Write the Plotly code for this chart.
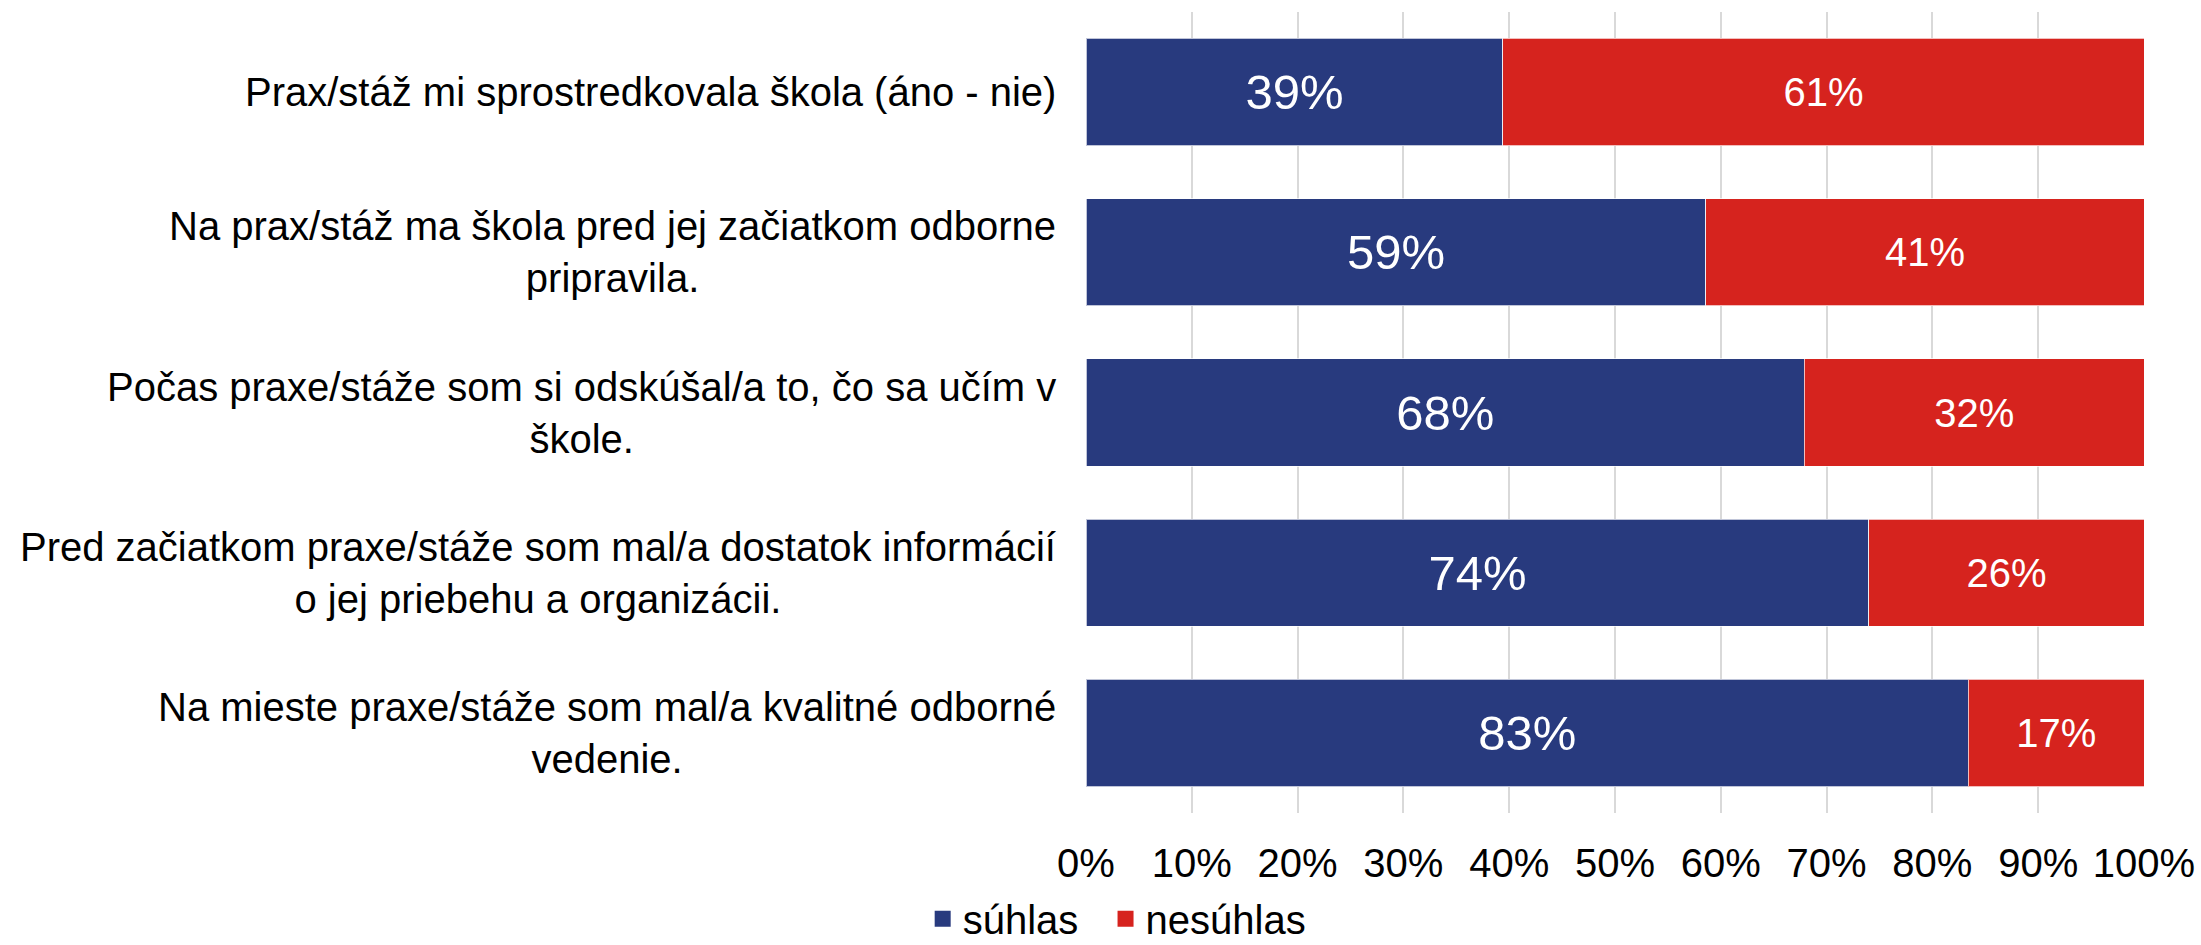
import plotly.graph_objects as go

categories = [
    "Prax/stáž mi sprostredkovala škola (áno - nie)",
    "Na prax/stáž ma škola pred jej začiatkom odborne<br>pripravila.",
    "Počas praxe/stáže som si odskúšal/a to, čo sa učím v<br>škole.",
    "Pred začiatkom praxe/stáže som mal/a dostatok informácií<br>o jej priebehu a organizácii.",
    "Na mieste praxe/stáže som mal/a kvalitné odborné<br>vedenie.",
]
agree = [39.4, 58.6, 67.9, 74.0, 83.4]
disagree = [60.6, 41.4, 32.1, 26.0, 16.6]
series_names = ["súhlas", "nesúhlas"]
x_ticks = [0, 10, 20, 30, 40, 50, 60, 70, 80, 90, 100]
x_tick_labels = [f"{v}%" for v in x_ticks]

FONT = "Liberation Sans, Arial, sans-serif"
BLUE = "#283A7E"
RED = "#D6231E"
colors = [BLUE, RED]
label_sizes = [49, 40]

fig = go.Figure()
for vals, name, col, fs in zip([agree, disagree], series_names, colors, label_sizes):
    fig.add_trace(go.Bar(
        y=categories, x=vals, name=name, orientation="h", showlegend=False,
        marker=dict(color=col, line=dict(color="rgba(255,255,255,0.7)", width=1)),
        texttemplate="%{x:.0f}%", textposition="inside", insidetextanchor="middle",
        textfont=dict(family=FONT, size=fs, color="white"), textangle=0,
    ))

# legend entries (square swatches)
for i, (name, col) in enumerate(zip(series_names, colors)):
    fig.add_trace(go.Scatter(
        x=[None], y=[None], mode="markers", name=name + ("\u00a0\u00a0" if i == 0 else ""),
        marker=dict(symbol="square", size=17, color=col), showlegend=True,
    ))

for c in categories:
    fig.add_annotation(
        x=-0.026, xref="paper", y=c, yref="y", text=c, showarrow=False,
        xanchor="right", yanchor="middle", align="center",
        font=dict(family=FONT, size=40, color="#000000"),
    )

fig.update_layout(
    barmode="stack",
    bargap=0.33,
    width=2201, height=945,
    margin=dict(l=1086, r=57, t=12, b=132, autoexpand=False),
    paper_bgcolor="white", plot_bgcolor="white",
    font=dict(family=FONT, size=40, color="#000000"),
    showlegend=True,
    legend=dict(
        orientation="h", x=0.029, xanchor="center", y=-0.132, yanchor="middle",
        font=dict(family=FONT, size=40, color="#000000"),
        itemwidth=30, traceorder="normal",
    ),
)
fig.update_xaxes(
    range=[0, 100], tickvals=x_ticks, ticktext=x_tick_labels, automargin=False,
    showgrid=True, gridcolor="#D9D9D9", gridwidth=2, zeroline=False,
    showline=False, ticks="", ticklabelstandoff=23,
    tickfont=dict(family=FONT, size=40, color="#000000"),
)
fig.update_yaxes(
    autorange="reversed", showticklabels=False, showgrid=False, automargin=False,
    zeroline=False, showline=False, ticks="",
)

fig.write_html(
    "out.html",
    config={"displayModeBar": False},
    post_script="document.body.style.margin='0px';document.body.style.overflow='hidden';",
)
